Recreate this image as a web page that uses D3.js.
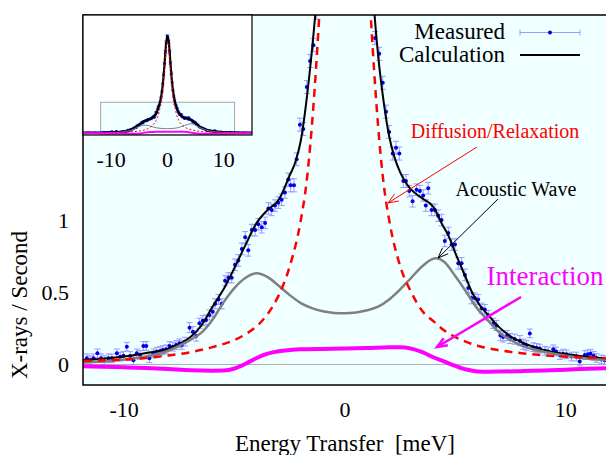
<!DOCTYPE html>
<html><head><meta charset="utf-8">
<script src="https://cdn.jsdelivr.net/npm/d3@7/dist/d3.min.js"></script>
</head><body style="margin:0">
<svg id="c" width="606" height="455"></svg>
<script>
// ---------- data ----------
const xTicks = [-10, 0, 10];
const yTicks = [0, 0.5, 1];
const yTickLabels = ["0", "0.5", "1"];
const insetTicks = [-10, 0, 10];

// Calculation (black)
const calcE = [-15,-14,-13,-12,-11,-10,-9,-8,-7.5,-7,-6.5,-6,-5.5,-5,-4.5,-4,-3.5,-3,-2.5,-2.25,-2,-1.75,-1.5,-1.25,-1,-0.75,-0.5,-0.25,0,0.25,0.5,0.75,1,1.25,1.5,1.75,2,2.25,2.5,2.75,3,3.5,4,4.4,4.75,5,5.25,5.5,5.75,6.1,6.5,7,7.5,8,9,10,11,12,13,14,15];
const calcV = [0.022,0.024,0.027,0.03,0.04,0.055,0.08,0.11,0.14,0.19,0.27,0.40,0.52,0.67,0.83,0.98,1.07,1.14,1.31,1.40,1.55,1.82,2.17,2.6,3.2,4.2,5.55,7.0,7.6,7.05,5.6,4.25,3.25,2.6,2.14,1.82,1.58,1.43,1.33,1.26,1.21,1.15,1.09,0.97,0.87,0.77,0.68,0.59,0.50,0.41,0.34,0.255,0.195,0.155,0.10,0.072,0.052,0.04,0.034,0.03,0.028];

// Diffusion / Relaxation (red dashed)
const diffE = [-15,-13,-12,-11,-10,-9,-8,-7,-6,-5,-4.5,-4,-3.5,-3,-2.5,-2,-1.75,-1.5,-1.25,-1,-0.75,-0.5,-0.25,0,0.25,0.5,0.75,1,1.25,1.5,1.75,2,2.5,3,3.5,4,4.5,5,6,7,8,9,10,11,12,13,15];
const diffV = [0.016,0.021,0.024,0.028,0.034,0.045,0.062,0.085,0.12,0.17,0.21,0.265,0.35,0.48,0.68,1.0,1.25,1.65,2.2,2.9,3.9,5.2,6.6,7.2,6.6,5.2,3.9,2.9,2.2,1.65,1.25,1.0,0.68,0.5,0.37,0.30,0.235,0.19,0.13,0.098,0.078,0.064,0.054,0.047,0.042,0.038,0.032];

// Acoustic wave (gray)
const acouE = [-15,-13,-12,-11,-10,-9,-8,-7.5,-7,-6.5,-6,-5.5,-5,-4.5,-4,-3.5,-3,-2.5,-2,-1.5,-1,-0.5,0,0.5,1,1.5,2,2.5,3,3.5,4.1,4.5,5,5.5,6,6.5,7,7.5,8,8.5,9,10,11,12,13,15];
const acouV = [0.006,0.009,0.012,0.02,0.035,0.055,0.095,0.13,0.17,0.22,0.31,0.43,0.53,0.60,0.632,0.605,0.545,0.48,0.425,0.39,0.368,0.357,0.355,0.36,0.375,0.40,0.45,0.52,0.60,0.68,0.735,0.71,0.61,0.50,0.385,0.30,0.22,0.17,0.13,0.105,0.088,0.06,0.04,0.03,0.02,0.012];

// Interaction (magenta)
const interE = [-15,-12,-10,-9,-8,-7,-6,-5.5,-5,-4.5,-4,-3.5,-3,-2.5,-2,-1,0,1,2,2.5,3,3.5,4,4.5,5,5.5,6,6.5,7,8,9,10,11,12,15];
const interV = [-0.006,-0.012,-0.02,-0.025,-0.032,-0.04,-0.043,-0.042,-0.028,0.005,0.045,0.075,0.092,0.10,0.105,0.108,0.11,0.114,0.119,0.12,0.11,0.085,0.05,0.02,-0.01,-0.035,-0.048,-0.05,-0.049,-0.046,-0.042,-0.036,-0.03,-0.025,-0.012];

// Measured points
const measE = [
 -15.0,-14.7,-14.4,-14.1,-13.8,-13.5,-13.2,-12.9,-12.6,-12.3,-12.0,
 -11.69,-11.54,-11.39,-11.21,-11.05,-10.90,-10.71,-10.56,-10.33,-10.18,
 -10.03,-9.88,-9.73,-9.58,-9.43,-9.28,-9.13,-9.00,-8.86,-8.67,
 -8.52,-8.37,-8.25,-8.10,-7.95,-7.80,-7.65,-7.50,-7.39,-7.24,
 -7.04,-6.89,-6.74,-6.59,-6.44,-6.29,-6.14,-5.99,-5.88,-5.73,
 -5.58,-5.43,-5.28,-5.13,-4.98,-4.83,-4.67,-4.52,-4.38,-4.22,
 -4.07,-3.92,-3.77,-3.62,-3.47,-3.32,-3.17,-3.02,-2.87,-2.72,
 -2.57,-2.46,-2.31,-2.19,-2.04,-1.89,-1.73,-1.58,-1.43,
 -1.28,-1.13,-0.98,-0.83,-0.68,-0.53,-0.38,-0.23,-0.08,0.07,0.22,0.37,0.52,0.67,0.82,0.97,1.12,1.24,
 1.36,1.55,1.71,1.86,2.00,2.16,2.31,2.46,2.64,2.76,
 2.91,3.06,3.24,3.39,3.54,3.66,3.77,3.92,4.07,4.22,
 4.37,4.52,4.68,4.83,4.98,5.13,5.28,5.43,5.58,5.73,
 5.88,6.03,6.19,6.33,6.49,6.71,6.86,7.04,7.16,7.34,
 7.47,7.69,7.92,8.07,8.22,8.37,8.52,8.67,8.82,9.05,
 9.20,9.43,9.55,9.73,9.88,10.03,10.26,10.48,10.63,10.86,
 11.00,11.12,11.26,11.39,11.61,11.76,
 12.0,12.3,12.6,12.9,13.2,13.5,13.8,14.1,14.4,14.7,15.0];
const measV = [
 0.030,0.035,0.025,0.040,0.030,0.035,0.030,0.040,0.030,0.035,0.030,
 0.043,0.030,0.043,0.077,0.043,0.030,0.043,0.043,0.077,0.054,
 0.060,0.123,0.059,0.030,0.077,0.066,0.128,0.128,0.043,0.077,
 0.089,0.093,0.100,0.105,0.128,0.123,0.135,0.147,0.135,0.158,
 0.255,0.227,0.197,0.285,0.303,0.308,0.343,0.365,0.420,0.450,
 0.420,0.580,0.600,0.600,0.690,0.720,0.800,0.880,0.790,0.930,
 0.930,0.970,0.950,0.980,1.080,1.070,1.100,1.120,1.140,1.190,
 1.280,1.240,1.240,1.420,1.660,1.630,1.920,2.100,2.210,
 2.45,2.80,3.25,3.85,4.60,5.45,6.35,7.10,7.60,7.55,7.15,6.40,5.50,4.70,3.95,3.35,2.85,2.55,
 2.26,2.15,1.95,1.75,1.61,1.46,1.50,1.46,1.27,1.27,
 1.20,1.13,1.21,1.20,1.17,1.10,1.22,1.07,1.07,1.03,
 1.00,0.855,0.91,0.83,0.83,0.70,0.70,0.62,0.53,0.46,
 0.46,0.45,0.39,0.38,0.34,0.285,0.27,0.20,0.19,0.20,
 0.18,0.175,0.165,0.14,0.13,0.215,0.12,0.115,0.11,0.095,
 0.09,0.105,0.09,0.065,0.075,0.07,0.055,0.055,0.02,0.065,
 0.07,0.075,0.06,0.045,0.035,0.03,
 0.040,0.035,0.040,0.030,0.035,0.040,0.030,0.035,0.030,0.035,0.030];
const measErr = [
 0.03,0.03,0.03,0.03,0.03,0.03,0.03,0.03,0.03,0.03,0.03,
 0.03,0.03,0.03,0.03,0.03,0.03,0.03,0.03,0.03,0.03,
 0.03,0.03,0.03,0.03,0.03,0.03,0.03,0.03,0.03,0.03,
 0.03,0.03,0.03,0.03,0.03,0.03,0.03,0.03,0.03,0.03,
 0.035,0.035,0.035,0.035,0.035,0.035,0.035,0.035,0.035,0.035,
 0.035,0.035,0.035,0.035,0.04,0.04,0.04,0.04,0.04,0.04,
 0.04,0.04,0.04,0.04,0.04,0.04,0.04,0.04,0.04,0.04,
 0.045,0.045,0.045,0.045,0.045,0.045,0.045,0.045,0.045,
 0.06,0.07,0.08,0.09,0.10,0.11,0.12,0.13,0.13,0.13,0.13,0.12,0.11,0.10,0.09,0.08,0.07,0.06,
 0.045,0.045,0.045,0.045,0.045,0.045,0.045,0.045,0.045,0.045,
 0.04,0.04,0.04,0.04,0.04,0.04,0.04,0.04,0.04,0.04,
 0.04,0.04,0.04,0.04,0.04,0.04,0.04,0.04,0.04,0.04,
 0.035,0.035,0.035,0.035,0.035,0.035,0.035,0.035,0.035,0.035,
 0.035,0.035,0.035,0.035,0.035,0.03,0.03,0.03,0.03,0.03,
 0.03,0.03,0.03,0.03,0.03,0.03,0.03,0.03,0.03,0.03,
 0.03,0.03,0.03,0.03,0.03,0.03,
 0.03,0.03,0.03,0.03,0.03,0.03,0.03,0.03,0.03,0.03,0.03];

// ---------- layout ----------
const svg = d3.select("#c");
const L = 83, R = 608, T = 15, B = 385;
const x = d3.scaleLinear().domain([-12, 12]).range([80, 610]);
const y = d3.scaleLinear().domain([-0.142, 2.419]).range([B, T]);

const defs = svg.append("defs");
defs.append("clipPath").attr("id", "clipMain").append("rect")
  .attr("x", L).attr("y", T).attr("width", R - L).attr("height", B - T);

svg.append("rect").attr("x", L).attr("y", T).attr("width", R - L).attr("height", B - T)
  .attr("fill", "#f0ffff");

const zip = (a, b) => a.map((e, i) => [e, b[i]]);

function drawAll(g, xs, ys, opt) {
  const line = d3.line().x(d => xs(d[0])).y(d => ys(d[1])).curve(d3.curveMonotoneX);
  if (opt.zero) {
    g.append("line").attr("x1", xs.range()[0]).attr("x2", xs.range()[1])
      .attr("y1", ys(0)).attr("y2", ys(0)).attr("stroke", "#a8b0b0").attr("stroke-width", 1);
  }
  const pts = g.append("g");
  measE.forEach((e, i) => {
    const v = measV[i], er = measErr[i];
    const cx = xs(e);
    pts.append("line").attr("x1", cx).attr("x2", cx).attr("y1", ys(v - er)).attr("y2", ys(v + er))
      .attr("stroke", "#9a9aff").attr("stroke-width", opt.ebw);
    [v - er, v + er].forEach(w => pts.append("line").attr("x1", cx - opt.cap).attr("x2", cx + opt.cap)
      .attr("y1", ys(w)).attr("y2", ys(w)).attr("stroke", "#9a9aff").attr("stroke-width", opt.ebw));
  });
  measE.forEach((e, i) => {
    pts.append("circle").attr("cx", xs(e)).attr("cy", ys(measV[i])).attr("r", opt.r).attr("fill", "#0000f0");
  });
  g.append("path").attr("d", line(zip(calcE, calcV))).attr("fill", "none")
    .attr("stroke", "#000").attr("stroke-width", opt.calcW);
  g.append("path").attr("d", line(zip(acouE, acouV))).attr("fill", "none")
    .attr("stroke", "#808080").attr("stroke-width", opt.acW);
  g.append("path").attr("d", line(zip(diffE, diffV))).attr("fill", "none")
    .attr("stroke", "#ff0000").attr("stroke-width", opt.dfW).attr("stroke-dasharray", opt.dash);
  g.append("path").attr("d", line(zip(interE, interV))).attr("fill", "none")
    .attr("stroke", "#ff00ff").attr("stroke-width", opt.inW);
}

const gMain = svg.append("g").attr("clip-path", "url(#clipMain)");
drawAll(gMain, x, y, {zero: true, ebw: 1, cap: 3, r: 2, calcW: 2, acW: 2.5, dfW: 2.5, dash: "8,6", inW: 4});

svg.append("rect").attr("x", L).attr("y", T).attr("width", R - L).attr("height", B - T)
  .attr("fill", "none").attr("stroke", "#000").attr("stroke-width", 1.5);

function label(xx, yy, txt, size, color, anchor) {
  const t = svg.append("text").attr("x", xx).attr("y", yy)
    .attr("font-size", size).attr("font-family", "Liberation Serif")
    .attr("text-anchor", anchor || "middle").attr("fill", color || "#000").text(txt);
  t.style("font-family", "Liberation Serif");
  return t;
}
function xAxisLabels(axisGen, vals, fmt, baseline, size) {
  const sc = axisGen.scale();
  vals.forEach((v, i) => label(sc(v), baseline, fmt(v, i), size, "#000", "middle"));
}
function yAxisLabels(axisGen, vals, fmt, right, dy, size) {
  const sc = axisGen.scale();
  vals.forEach((v, i) => label(right, sc(v) + dy, fmt(v, i), size, "#000", "end"));
}
xAxisLabels(d3.axisBottom(x).tickValues(xTicks), xTicks, d => String(d), 417, 22);
yAxisLabels(d3.axisLeft(y).tickValues(yTicks), yTicks, (d, i) => yTickLabels[i], 69, 7.5, 22);

label(345, 451, "Energy Transfer \u00a0[meV]", 23);
label(0, 0, "X-rays / Second", 23).attr("transform", "translate(27,305) rotate(-90)");

label(505, 39, "Measured", 23, "#000", "end");
label(505, 62, "Calculation", 23, "#000", "end");
const lg = svg.append("g");
lg.append("line").attr("x1", 520).attr("x2", 580).attr("y1", 32.5).attr("y2", 32.5).attr("stroke", "#9a9aff");
[520, 580].forEach(xx => lg.append("line").attr("x1", xx).attr("x2", xx).attr("y1", 29.5).attr("y2", 35.5).attr("stroke", "#9a9aff"));
lg.append("circle").attr("cx", 550).attr("cy", 32.5).attr("r", 2).attr("fill", "#0000f0");
lg.append("line").attr("x1", 520).attr("x2", 580).attr("y1", 55).attr("y2", 55).attr("stroke", "#000").attr("stroke-width", 2);

function arrow(x1, y1, x2, y2, color, w) {
  const g = svg.append("g").attr("stroke", color).attr("stroke-width", w).attr("fill", "none");
  g.append("line").attr("x1", x1).attr("y1", y1).attr("x2", x2).attr("y2", y2);
  const a = Math.atan2(y1 - y2, x1 - x2), len = 11, sp = 0.38;
  const p = [[x2 + len * Math.cos(a + sp), y2 + len * Math.sin(a + sp)], [x2, y2], [x2 + len * Math.cos(a - sp), y2 + len * Math.sin(a - sp)]];
  g.append("polyline").attr("points", p.map(q => q.join(",")).join(" "));
}
label(495, 138, "Diffusion/Relaxation", 20, "#ff0000");
arrow(477, 147, 388, 203, "#ff0000", 1);
label(516, 196, "Acoustic Wave", 20, "#000");
arrow(498, 199, 438, 258, "#000", 1);
label(545, 285, "Interaction", 27, "#ff00ff");
arrow(521, 297, 437, 347, "#ff00ff", 2.5);

// ---------- inset ----------
const IL = 83, IR = 252, IT = 15, IB = 135;
const xi = d3.scaleLinear().domain([-15, 15]).range([IL, IR]);
const yi = d3.scaleLinear().domain([-0.142, 9.25]).range([IB, IT]);
defs.append("clipPath").attr("id", "clipInset").append("rect")
  .attr("x", IL).attr("y", IT).attr("width", IR - IL).attr("height", IB - IT);
svg.append("rect").attr("x", IL).attr("y", IT).attr("width", IR - IL).attr("height", IB - IT).attr("fill", "#fff");
const gIn = svg.append("g").attr("clip-path", "url(#clipInset)");
const wx0 = xi(x.invert(L)), wx1 = xi(x.invert(R)), wy0 = yi(y.invert(T)), wy1 = yi(y.invert(B));
gIn.append("rect").attr("x", wx0).attr("y", wy0).attr("width", wx1 - wx0).attr("height", wy1 - wy0)
  .attr("fill", "#f0ffff").attr("stroke", "#a0a8a8").attr("stroke-width", 1);
drawAll(gIn, xi, yi, {zero: false, ebw: 0.8, cap: 2, r: 1.3, calcW: 2.2, acW: 1, dfW: 1, dash: "2,2", inW: 2});
svg.append("rect").attr("x", IL).attr("y", IT).attr("width", IR - IL).attr("height", IB - IT)
  .attr("fill", "none").attr("stroke", "#000").attr("stroke-width", 1.2);
xAxisLabels(d3.axisBottom(xi).tickValues(insetTicks), insetTicks, d => String(d), 167, 22);
</script>
</body></html>
